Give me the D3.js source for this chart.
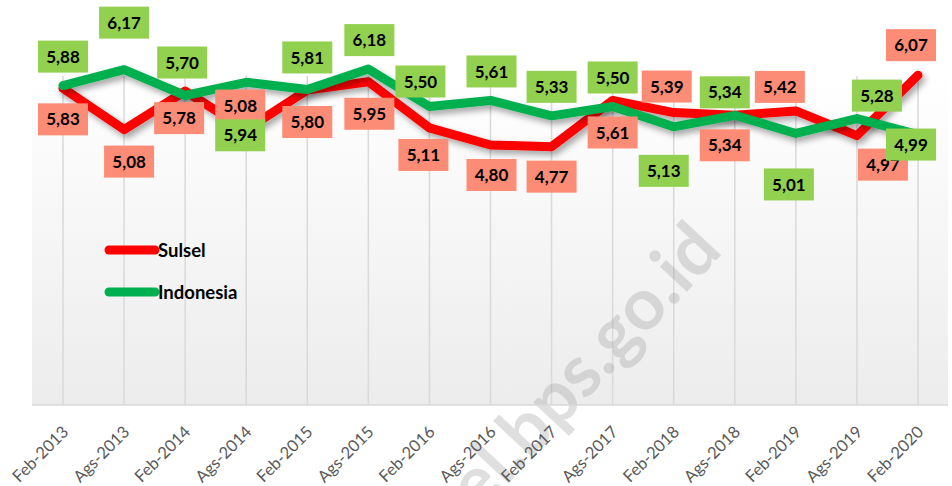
<!DOCTYPE html>
<html>
<head>
<meta charset="utf-8">
<script src="https://cdn.jsdelivr.net/npm/d3@7"></script>
<style>
  body { margin: 0; background: #fff; }
  svg { display: block; }
</style>
</head>
<body>
<div id="chart"></div>
<script>
var categories = ['Feb-2013', 'Ags-2013', 'Feb-2014', 'Ags-2014', 'Feb-2015', 'Ags-2015', 'Feb-2016',
  'Ags-2016', 'Feb-2017', 'Ags-2017', 'Feb-2018', 'Ags-2018', 'Feb-2019', 'Ags-2019', 'Feb-2020'];
var sulsel = [5.83, 5.08, 5.78, 5.08, 5.80, 5.95, 5.11, 4.80, 4.77, 5.61, 5.39, 5.34, 5.42, 4.97, 6.07];
var indonesia = [5.88, 6.17, 5.70, 5.94, 5.81, 6.18, 5.50, 5.61, 5.33, 5.50, 5.13, 5.34, 5.01, 5.28, 4.99];
var seriesNames = ['Sulsel', 'Indonesia'];

// data label placement (dx, dy from the point), as in the original layout
var sulselLabelDx = [0, 5, -6, -6, 0, 1, -6, 1, 0, 0, -7, -10, -16, 26, -7];
var sulselLabelDy = [31, 32, 27, -24, 32, 32, 27, 30, 30, 32, -26, 30, -24, 29, -30];
var indoLabelDx = [0, 0, -3, -6, 0, 1, -9, 1, 0, 0, -10, -10, -7, 20, -7];
var indoLabelDy = [-29, -47, -33, 53, -32, -29, -25, -29, -29, -29, 44, -23, 51, -23, 10];

var width = 952, height = 486;
var plot = { left: 32, right: 948, top: 76, bottom: 405 };

var svg = d3.select('#chart').append('svg')
  .attr('width', width)
  .attr('height', height);

var defs = svg.append('defs');
var grad = defs.append('linearGradient')
  .attr('id', 'bg').attr('x1', 0).attr('y1', 0).attr('x2', 0).attr('y2', 1);
grad.append('stop').attr('offset', '0%').attr('stop-color', '#ffffff');
grad.append('stop').attr('offset', '100%').attr('stop-color', '#ececec');

var shadow = defs.append('filter').attr('id', 'shadow')
  .attr('x', '-10%').attr('y', '-30%').attr('width', '120%').attr('height', '160%');
shadow.append('feDropShadow')
  .attr('dx', 3).attr('dy', 4).attr('stdDeviation', 3)
  .attr('flood-color', '#000').attr('flood-opacity', 0.35);

var x = d3.scalePoint().domain(categories).range([63, 918]);
var y = d3.scaleLinear().domain([0, 6]).range([409, 79]);

// plot background
svg.append('rect')
  .attr('x', plot.left).attr('y', plot.top)
  .attr('width', plot.right - plot.left).attr('height', plot.bottom - plot.top)
  .attr('fill', 'url(#bg)');

// vertical gridlines
svg.append('g').selectAll('line')
  .data(categories)
  .enter().append('line')
  .attr('x1', function (d) { return x(d); })
  .attr('x2', function (d) { return x(d); })
  .attr('y1', plot.top)
  .attr('y2', plot.bottom)
  .attr('stroke', '#d9d9d9')
  .attr('stroke-width', 1.5);

// watermark
svg.append('text')
  .attr('transform', 'translate(724,252) rotate(-47)')
  .attr('text-anchor', 'end')
  .attr('font-family', 'Lato, sans-serif')
  .attr('font-weight', 'bold')
  .attr('font-size', 72)
  .attr('fill', '#9a9a9a')
  .attr('fill-opacity', 0.32)
  .text('sulsel.bps.go.id');

// x axis
var xAxis = svg.append('g')
  .attr('transform', 'translate(0,' + plot.bottom + ')')
  .call(d3.axisBottom(x).tickSize(0).tickPadding(0));
xAxis.select('.domain')
  .attr('d', 'M' + plot.left + ',0H' + plot.right)
  .attr('stroke', '#d9d9d9')
  .attr('stroke-width', 1.5);
xAxis.selectAll('.tick text')
  .attr('font-family', 'Lato, sans-serif')
  .attr('font-size', 16.5)
  .attr('fill', '#595959')
  .attr('text-anchor', 'end')
  .attr('dy', 0)
  .attr('y', 0)
  .attr('transform', 'translate(6,28) rotate(-45)');

var line = d3.line()
  .x(function (d, i) { return x(categories[i]); })
  .y(function (d) { return y(d); });

var series = [
  { name: seriesNames[0], values: sulsel, color: '#ff0000', box: '#fd8c76', dx: sulselLabelDx, dy: sulselLabelDy },
  { name: seriesNames[1], values: indonesia, color: '#00b050', box: '#92d050', dx: indoLabelDx, dy: indoLabelDy }
];

svg.append('g').selectAll('path')
  .data(series)
  .enter().append('path')
  .attr('d', function (s) { return line(s.values); })
  .attr('fill', 'none')
  .attr('stroke', function (s) { return s.color; })
  .attr('stroke-width', 9)
  .attr('stroke-linejoin', 'round')
  .attr('stroke-linecap', 'round')
  .attr('filter', 'url(#shadow)');

// data labels
series.forEach(function (s) {
  var g = svg.append('g').selectAll('g')
    .data(s.values)
    .enter().append('g')
    .attr('transform', function (d, i) {
      return 'translate(' + (x(categories[i]) + s.dx[i]) + ',' + (y(d) + s.dy[i]) + ')';
    });
  g.append('rect')
    .attr('x', -25).attr('y', -16)
    .attr('width', 50).attr('height', 32)
    .attr('fill', s.box);
  g.append('text')
    .attr('text-anchor', 'middle')
    .attr('dy', '0.36em')
    .attr('font-family', 'Lato, sans-serif')
    .attr('font-weight', 'bold')
    .attr('font-size', 17)
    .attr('fill', '#000')
    .text(function (d) { return d3.format('.2f')(d).replace('.', ','); });
});

// legend
var legend = svg.append('g').selectAll('g')
  .data(series)
  .enter().append('g')
  .attr('transform', function (d, i) { return 'translate(109,' + (250 + i * 42) + ')'; });
legend.append('line')
  .attr('x1', 0).attr('x2', 46)
  .attr('stroke', function (d) { return d.color; })
  .attr('stroke-width', 9)
  .attr('stroke-linecap', 'round');
legend.append('text')
  .attr('x', 49)
  .attr('dy', '0.36em')
  .attr('font-family', 'Lato, sans-serif')
  .attr('font-weight', 'bold')
  .attr('font-size', 18.5)
  .attr('fill', '#000')
  .text(function (d) { return d.name; });
</script>
</body>
</html>
